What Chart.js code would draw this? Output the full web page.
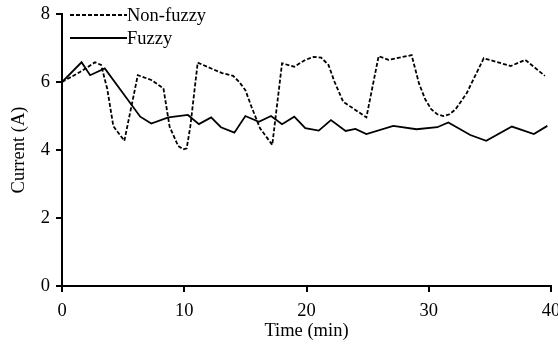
<!DOCTYPE html>
<html>
<head>
<meta charset="utf-8">
<script src="https://cdn.jsdelivr.net/npm/chart.js@4"></script>
<style>
html,body{margin:0;padding:0;background:#fff;}
#wrap{width:558px;height:347px;position:relative;}
</style>
</head>
<body>
<div id="wrap"><canvas id="c" width="558" height="347"></canvas></div>
<script>
// Data
const nonFuzzyTime = [0, 1.5, 2.7, 3.2, 3.7, 4.2, 5.1, 6.2, 7.3, 8.3, 8.8, 9.5, 9.9, 10.2, 10.5, 11.1, 12.0, 13.1, 14.0, 14.5, 15.0, 15.5, 16.2, 17.2, 18.0, 19.0, 19.9, 20.6, 21.2, 21.8, 22.3, 23.0, 24.9, 25.9, 26.7, 28.6, 29.2, 29.7, 30.2, 30.7, 31.2, 31.7, 32.2, 33.1, 34.5, 36.7, 37.9, 39.5];
const nonFuzzyCurrent = [6.0, 6.3, 6.58, 6.5, 5.8, 4.7, 4.27, 6.2, 6.06, 5.81, 4.69, 4.12, 4.02, 4.05, 4.7, 6.57, 6.43, 6.26, 6.18, 6.0, 5.76, 5.27, 4.64, 4.15, 6.55, 6.45, 6.65, 6.74, 6.72, 6.5, 6.0, 5.42, 4.96, 6.76, 6.65, 6.79, 5.96, 5.5, 5.2, 5.05, 5.0, 5.05, 5.2, 5.67, 6.7, 6.47, 6.65, 6.18];
const fuzzyTime = [0, 1.6, 2.3, 3.5, 6.4, 7.3, 8.7, 10.3, 11.2, 12.2, 13.0, 14.1, 15.0, 16.1, 17.1, 18.0, 19.0, 19.9, 21.0, 22.0, 23.2, 24.0, 24.9, 27.1, 29.0, 30.7, 31.6, 33.4, 34.7, 36.8, 38.6, 39.7];
const fuzzyCurrent = [6.0, 6.58, 6.2, 6.4, 4.98, 4.78, 4.96, 5.03, 4.76, 4.96, 4.67, 4.51, 5.0, 4.83, 5.0, 4.76, 4.98, 4.64, 4.57, 4.88, 4.56, 4.62, 4.47, 4.71, 4.61, 4.67, 4.81, 4.44, 4.27, 4.69, 4.47, 4.71];
const seriesNames = ['Non-fuzzy', 'Fuzzy'];
const xTicks = [0, 10, 20, 30, 40];
const yTicks = [0, 2, 4, 6, 8];
const xTitle = 'Time (min)';
const yTitle = 'Current (A)';

const FONT = '"Liberation Serif", "Times New Roman", serif';
const FS = 18.5;
const toPts = (xs, ys) => xs.map((x, i) => ({x: x, y: ys[i]}));

const legendPlugin = {
  id: 'customLegend',
  afterDraw(chart) {
    const ctx = chart.ctx;
    ctx.save();
    const rows = [15, 38];
    chart.data.datasets.forEach((ds, i) => {
      const y = rows[i];
      ctx.beginPath();
      ctx.setLineDash(ds.borderDash || []);
      ctx.lineWidth = ds.borderWidth;
      ctx.strokeStyle = ds.borderColor;
      ctx.moveTo(70, y);
      ctx.lineTo(127, y);
      ctx.stroke();
      ctx.setLineDash([]);
      ctx.fillStyle = '#000';
      ctx.font = FS + 'px ' + FONT;
      ctx.textBaseline = 'middle';
      ctx.textAlign = 'left';
      ctx.fillText(ds.label, 127, y + 1);
    });
    ctx.restore();
  }
};

new Chart(document.getElementById('c'), {
  type: 'line',
  data: {
    datasets: [
      {label: seriesNames[0], data: toPts(nonFuzzyTime, nonFuzzyCurrent), borderColor: '#000', borderWidth: 1.8, borderDash: [4, 2], pointRadius: 0, tension: 0, fill: false},
      {label: seriesNames[1], data: toPts(fuzzyTime, fuzzyCurrent), borderColor: '#000', borderWidth: 1.8, pointRadius: 0, tension: 0, fill: false}
    ]
  },
  options: {
    responsive: false,
    animation: false,
    devicePixelRatio: 1,
    layout: {padding: {top: 14, right: 7, left: 0, bottom: 0}},
    plugins: {legend: {display: false}, tooltip: {enabled: false}},
    scales: {
      x: {
        type: 'linear', min: 0, max: 40,
        afterBuildTicks: (s) => { s.ticks = xTicks.map(v => ({value: v})); },
        afterFit: (s) => { s.height = 61; s.paddingLeft = 0; s.paddingRight = 0; },
        ticks: {color: '#000', font: {family: FONT, size: FS}, padding: 8, maxRotation: 0},
        grid: {drawOnChartArea: false, drawTicks: true, tickLength: 6, color: '#000', lineWidth: 2},
        border: {color: '#000', width: 2},
        title: {display: true, text: xTitle, color: '#000', font: {family: FONT, size: FS}, padding: {top: 2, bottom: 5}}
      },
      y: {
        type: 'linear', min: 0, max: 8,
        afterBuildTicks: (s) => { s.ticks = yTicks.map(v => ({value: v})); },
        afterFit: (s) => { s.width = 62; s.paddingTop = 0; s.paddingBottom = 0; },
        ticks: {color: '#000', font: {family: FONT, size: FS}, padding: 6},
        grid: {drawOnChartArea: false, drawTicks: true, tickLength: 6, color: '#000', lineWidth: 2},
        border: {color: '#000', width: 2},
        title: {display: true, text: yTitle, color: '#000', font: {family: FONT, size: FS}, padding: {top: 8, bottom: 0}}
      }
    }
  },
  plugins: [legendPlugin]
});
</script>
</body>
</html>
